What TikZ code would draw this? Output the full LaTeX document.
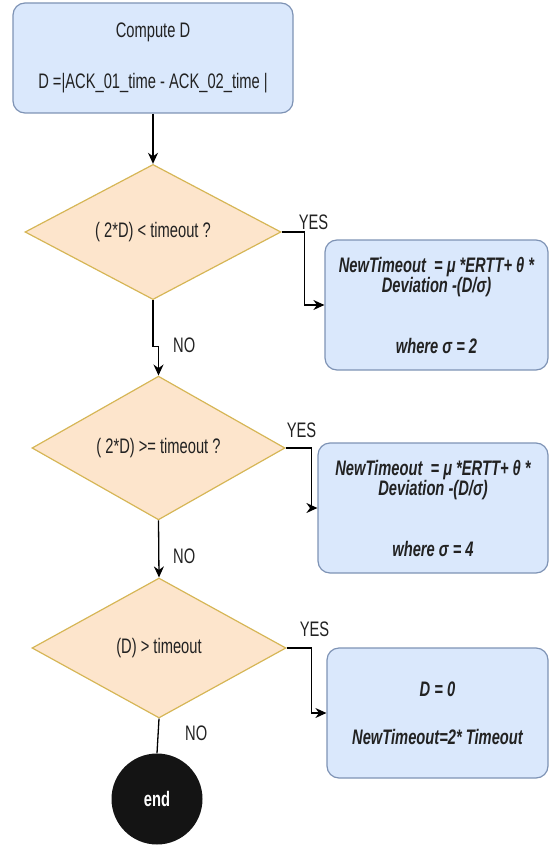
\documentclass[tikz,border=0pt]{standalone}
\usepackage{fontspec}
\setmainfont[FakeStretch=0.7]{Liberation Sans}
\usetikzlibrary{positioning,shapes.geometric,arrows.meta}
\definecolor{boxfill}{HTML}{DAE8FC}
\definecolor{boxline}{HTML}{7E93B5}
\definecolor{decfill}{HTML}{FDE5CC}
\definecolor{decline}{HTML}{D6B656}
\definecolor{txt}{HTML}{222222}
\newcommand{\flowfont}{\fontsize{21}{20}\selectfont}
\tikzset{
  procbox/.style={rounded corners=12pt, draw=boxline, fill=boxfill, line width=1.2pt,
    align=center, inner sep=0pt, text=txt, font=\flowfont},
  calcbox/.style={procbox, font=\flowfont\bfseries\itshape},
  decision/.style={diamond, draw=decline, fill=decfill, line width=1.2pt, inner sep=0pt,
    text=txt, font=\flowfont},
  lbl/.style={inner sep=1pt, text=txt, font=\flowfont},
  flow/.style={-{Stealth[length=11pt,width=10pt]}, line width=1.3pt},
  endnode/.style={circle, fill=black!92, minimum size=91pt, inner sep=0pt,
    text=white, font=\flowfont\bfseries}
}

\begin{document}
\begin{tikzpicture}[x=1pt,y=-1pt]
\useasboundingbox (0,0) rectangle (550,848);
% boxes and decisions
\node[procbox, minimum width=280pt, minimum height=110pt] (compute) at (153,58)
  {Compute D\\[31pt]D =|ACK\_01\_time - ACK\_02\_time |};
\node[decision, minimum width=256pt, minimum height=129pt] (dec1) at (153,232) {( 2*D) < timeout ?};
\node[calcbox, minimum width=223pt, minimum height=130pt] (box1) at (436.5,305)
  {NewTimeout~ = μ *ERTT+ θ *\\Deviation -(D/σ)\\[41pt]where σ = 2};
\node[decision, minimum width=253pt, minimum height=127pt] (dec2) at (158.5,448) {( 2*D) >= timeout ?};
\node[calcbox, minimum width=230pt, minimum height=130pt] (box2) at (433,508)
  {NewTimeout~ = μ *ERTT+ θ *\\Deviation -(D/σ)\\[41pt]where σ = 4};
\node[decision, minimum width=254pt, minimum height=140pt] (dec3) at (159,648) {(D) > timeout};
\node[calcbox, minimum width=221pt, minimum height=130pt] (box3) at (437.5,713)
  {D = 0\\[28pt]NewTimeout=2* Timeout};
\node[endnode] (end) at (157,799) {end};
% connectors
\draw[flow] (compute.south) -- (dec1.north);
\draw[flow] (dec1.east) -| ([xshift=-20pt]box1.west) -- (box1.west);
\draw[flow] (dec1.south) -- ++(0,46) -| (dec2.north);
\draw[flow] (dec2.east) -| ([xshift=-6pt]box2.west) -- (box2.west);
\draw[flow] (dec2.south) -- (dec3.north);
\draw[flow] (dec3.east) -| ([xshift=-15pt]box3.west) -- (box3.west);
\draw[line width=1.3pt] (dec3.south) -- (end.north);
% labels
\node[lbl, anchor=south west] (yes1) at ([xshift=16pt,yshift=1pt]dec1.east) {YES};
\node[lbl, anchor=south west] (yes2) at ([yshift=9pt]dec2.east) {YES};
\node[lbl, anchor=south west] (yes3) at ([xshift=12pt,yshift=10pt]dec3.east) {YES};
\node[lbl, anchor=west] (no1) at ([xshift=19pt,yshift=-45pt]dec1.south) {NO};
\node[lbl, anchor=west] (no2) at ([xshift=13.5pt,yshift=-35.5pt]dec2.south) {NO};
\node[lbl, anchor=west] (no3) at ([xshift=25pt,yshift=-15pt]dec3.south) {NO};
\end{tikzpicture}
\end{document}
